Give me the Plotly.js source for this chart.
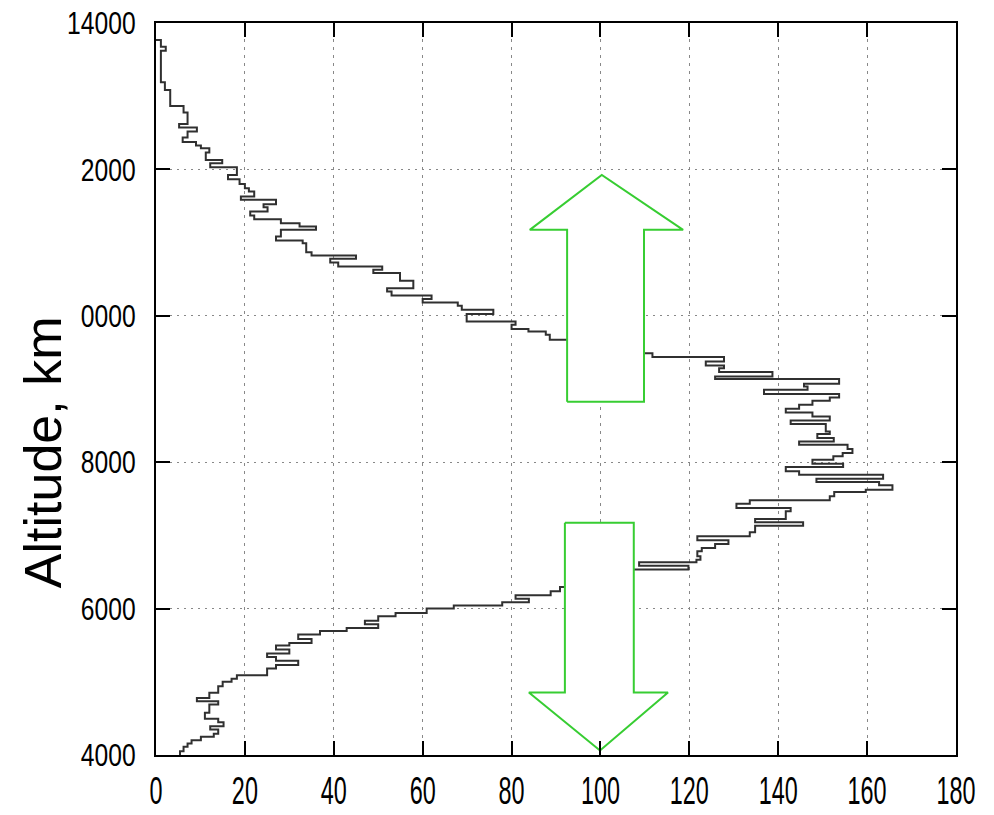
<!DOCTYPE html>
<html>
<head>
<meta charset="utf-8">
<script src="https://cdn.plot.ly/plotly-3.0.1.min.js"></script>
<style>
  html, body { margin: 0; padding: 0; background: #fff; }
  #chart { width: 994px; height: 815px; }
</style>
</head>
<body>
<div id="chart"></div>
<script>
// Step profile: value of each altitude bin (x) and the top edge of the bin (km)
const profileCount = [
  0, 1.1, 2.2, 1.1, 2.0, 3.2, 6.2, 7.1, 5.2, 9.2,
  7.1, 6.0, 9.0, 10.1, 12.0, 11.2, 14.9, 12.2, 18.2, 16.2,
  18.8, 20.0, 20.9, 22.1, 19.1, 27.0, 24.2, 25.1, 21.2, 22.1,
  28.1, 32.3, 36.0, 28.1, 27.0, 33.0, 33.8, 35.0, 45.0, 39.2,
  41.0, 50.9, 48.9, 54.9, 57.9, 52.0, 53.0, 62.0, 60.0, 67.9,
  68.8, 75.9, 69.9, 80.9, 80.0, 83.8, 87.7, 88.6, 100, 111.7,
  127.8, 123.7, 127.8, 126.7, 138.7, 125.8, 153.7, 145.8, 146.6, 136.8,
  153.7, 151.6, 147.7, 144.7, 141.7, 147.7, 151.6, 142.8, 150.7, 151.6,
  148.8, 152.5, 144.7, 155.6, 156.7, 154.5, 152.4, 147.7, 154.6, 141.7,
  144.7, 163.6, 148.6, 162.7, 165.7, 159.7, 152.6, 151.6, 133.6, 130.6,
  142.8, 141.7, 134.8, 145.6, 134.8, 133.6, 121.8, 128.8, 125.8, 122.8,
  121.8, 122.5, 121.6, 108.7, 119.8, 100, 90.9, 88.8, 80.9, 83.9,
  77.9, 67.0, 60.9, 53.9, 50.0, 47.0, 50.0, 42.9, 36.9, 32.0,
  35.0, 30.0, 27.0, 30.0, 25.0, 27.0, 32.0, 27.0, 25.0, 18.2,
  17.0, 15.0, 14.0, 12.0, 9.2, 14.0, 12.0, 11.0, 14.0, 15.2,
  12.2, 14.0, 13.0, 10.1, 8.0, 7.1, 6.2, 5.4, 5.4
];
const profileAltitude = [
  13768, 13768, 13677, 13622, 13190, 13085, 12867, 12776, 12621, 12571,
  12517, 12435, 12375, 12325, 12289, 12230, 12130, 12084, 12030, 11925,
  11866, 11802, 11743, 11697, 11629, 11584, 11524, 11484, 11424, 11370,
  11320, 11265, 11220, 11174, 11083, 11028, 10992, 10869, 10824, 10778,
  10728, 10674, 10628, 10583, 10480, 10378, 10332, 10278, 10228, 10182,
  10137, 10082, 10023, 9923, 9877, 9818, 9786, 9741, 9672, 9490,
  9436, 9377, 9322, 9285, 9231, 9172, 9135, 9072, 9035, 8990,
  8931, 8885, 8840, 8785, 8730, 8680, 8626, 8571, 8521, 8421,
  8385, 8330, 8284, 8239, 8180, 8125, 8080, 8034, 7980, 7934,
  7875, 7829, 7775, 7729, 7684, 7625, 7593, 7534, 7479, 7434,
  7374, 7329, 7224, 7179, 7133, 7042, 6988, 6933, 6883, 6828,
  6783, 6715, 6669, 6633, 6587, 6533, 6296, 6237, 6182, 6136,
  6086, 6041, 6000, 5940, 5895, 5835, 5786, 5736, 5695, 5645,
  5586, 5531, 5495, 5440, 5386, 5340, 5286, 5231, 5181, 5090,
  5040, 4999, 4940, 4849, 4780, 4735, 4689, 4576, 4494, 4448,
  4393, 4348, 4289, 4248, 4202, 4157, 4111, 4052, 4000
];

// Arrow outlines (data units)
const upArrowX   = [92.5, 92.5, 84.1, 100.3, 118.6, 109.8, 109.8, 92.5];
const upArrowY   = [8826, 11174, 11174, 11925, 11174, 11174, 8826, 8826];
const downArrowX = [92.0, 92.0, 83.9, 99.9, 115.2, 107.5, 107.5, 92.0];
const downArrowY = [7174, 4853, 4853, 4061, 4853, 4853, 7174, 7174];

// Axis ticks
const xTickVals = [0, 20, 40, 60, 80, 100, 120, 140, 160, 180];
const yTickVals = [4000, 6000, 8000, 10000, 12000, 14000];
const yTickText = ['4000', '6000', '8000', '0000', '2000', '14000'];

const arrowGreen = 'rgb(55,205,50)';

const traces = [
  {
    x: profileCount, y: profileAltitude,
    type: 'scatter', mode: 'lines',
    line: { shape: 'vh', color: '#303030', width: 2 },
    hoverinfo: 'skip', showlegend: false
  },
  {
    x: upArrowX, y: upArrowY, type: 'scatter', mode: 'lines',
    fill: 'toself', fillcolor: '#ffffff',
    line: { color: arrowGreen, width: 2 },
    hoverinfo: 'skip', showlegend: false
  },
  {
    x: downArrowX, y: downArrowY, type: 'scatter', mode: 'lines',
    fill: 'toself', fillcolor: '#ffffff',
    line: { color: arrowGreen, width: 2 },
    hoverinfo: 'skip', showlegend: false
  }
];

const baseFamily = 'Liberation Sans, Arial, Helvetica, sans-serif';

const layout = {
  width: 994, height: 815,
  margin: { l: 156, r: 38, t: 23, b: 60, pad: 0 },
  paper_bgcolor: '#fff', plot_bgcolor: '#fff',
  showlegend: false,
  xaxis: {
    range: [0, 180], tickvals: xTickVals,
    ticks: 'inside', ticklen: 14, tickwidth: 2, tickcolor: '#000',
    showline: true, linecolor: '#000', linewidth: 2, mirror: 'ticks',
    showgrid: true, gridcolor: '#888', gridwidth: 1, griddash: '3px,5px',
    zeroline: false, tickfont: { family: baseFamily, size: 39, color: '#000' },
    ticklabelstandoff: 0
  },
  yaxis: {
    range: [4000, 14000], tickvals: yTickVals, ticktext: yTickText,
    ticks: 'inside', ticklen: 14, tickwidth: 2, tickcolor: '#000',
    showline: true, linecolor: '#000', linewidth: 2, mirror: 'ticks',
    showgrid: true, gridcolor: '#888', gridwidth: 1, griddash: '2px,5px',
    zeroline: false, tickfont: { family: baseFamily, size: 32, color: '#000' },
    ticklabelstandoff: 12
  },
  annotations: [{
    text: 'Altitude, km', textangle: -90,
    xref: 'paper', yref: 'paper', x: -0.141, y: 0.414,
    xanchor: 'center', yanchor: 'middle', showarrow: false,
    font: { family: baseFamily, size: 52, color: '#000' }
  }]
};

function condense(selector, sx) {
  document.querySelectorAll(selector).forEach(function (el) {
    const ax = parseFloat(el.getAttribute('x')) || 0;
    const ay = parseFloat(el.getAttribute('y')) || 0;
    const old = el.getAttribute('transform') || '';
    el.setAttribute('transform',
      old + ' translate(' + ax + ',' + ay + ') scale(' + sx + ',1) translate(' + (-ax) + ',' + (-ay) + ')');
  });
}

Plotly.newPlot('chart', traces, layout, { staticPlot: true, displayModeBar: false })
  .then(function () {
    condense('.xtick text', 0.6);
    condense('.ytick text', 0.77);
  });
</script>
</body>
</html>
